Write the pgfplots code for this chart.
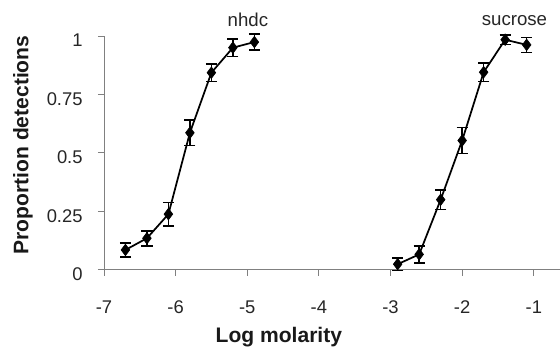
\documentclass[border=0pt]{standalone}
\usepackage{pgfplots}
\pgfplotsset{compat=1.18}
\usepackage{fontspec}
\setmainfont{Liberation Sans}
\begin{document}
\begin{tikzpicture}[x=1pt,y=1pt]
\begin{axis}[
  at={(0,0)}, anchor=south west,
  scale only axis,
  width=342pt, height=175.5pt,
  xmin=-7, xmax=-0.64, ymin=0, ymax=1,
  axis x line*=bottom, axis y line*=left,
  axis line style={color=black!50, line width=0.6pt},
  xtick={-7,-6,-5,-4,-3,-2,-1},
  ytick={0,0.25,0.5,0.75,1},
  yticklabels={0,0.25,0.5,0.75,1},
  xticklabels={-7,-6,-5,-4,-3,-2,-1},
  tick style={color=black!50, line width=0.6pt},
  tick align=outside,
  major tick length=4.5pt,
  tick label style={font=\fontsize{13.8}{15}\selectfont, color=black!85},
  xticklabel style={anchor=base, yshift=-28pt},
  yticklabel style={anchor=east, xshift=-8pt, yshift=-3.5pt},
  xlabel={\textbf{Log molarity}},
  ylabel={\textbf{Proportion detections}},
  label style={font=\fontsize{15.8}{17}\selectfont, color=black!90},
  xlabel style={at={(axis description cs:0.384,-0.312)}, anchor=base},
  ylabel style={at={(axis description cs:-0.178,0.534)}, anchor=center, rotate=0},
  clip=false,
]
\addplot+[black, line width=1.3pt, mark=diamond*, mark size=4.3pt,
  mark options={fill=black, line width=0.5pt},
  error bars/.cd, y dir=both, y explicit,
  error bar style={line width=1.2pt, black},
  error mark options={rotate=90, mark size=4.2pt, line width=1.2pt, black}]
coordinates {
(-6.7,0.085) +- (0,0.030)
(-6.4,0.135) +- (0,0.032)
(-6.1,0.238) +- (0,0.050)
(-5.8,0.586) +- (0,0.055)
(-5.5,0.843) +- (0,0.037)
(-5.2,0.950) +- (0,0.037)
(-4.9,0.974) +- (0,0.035)
};
\addplot+[black, line width=1.3pt, mark=diamond*, mark size=4.3pt,
  mark options={fill=black, line width=0.5pt},
  error bars/.cd, y dir=both, y explicit,
  error bar style={line width=1.2pt, black},
  error mark options={rotate=90, mark size=4.2pt, line width=1.2pt, black}]
coordinates {
(-2.9,0.024) +- (0,0.027)
(-2.6,0.066) +- (0,0.037)
(-2.3,0.300) +- (0,0.042)
(-2.0,0.553) +- (0,0.056)
(-1.7,0.845) +- (0,0.040)
(-1.4,0.984) +- (0,0.020)
(-1.1,0.962) +- (0,0.032)
};
\node[font=\fontsize{14}{15}\selectfont, color=black!85] at (axis cs:-4.99,1.068) {nhdc};
\node[font=\fontsize{14}{15}\selectfont, color=black!85] at (axis cs:-1.27,1.068) {sucrose};
\end{axis}
\path[use as bounding box] (-78,-60.75) rectangle (342,202.5);
\end{tikzpicture}
\end{document}
